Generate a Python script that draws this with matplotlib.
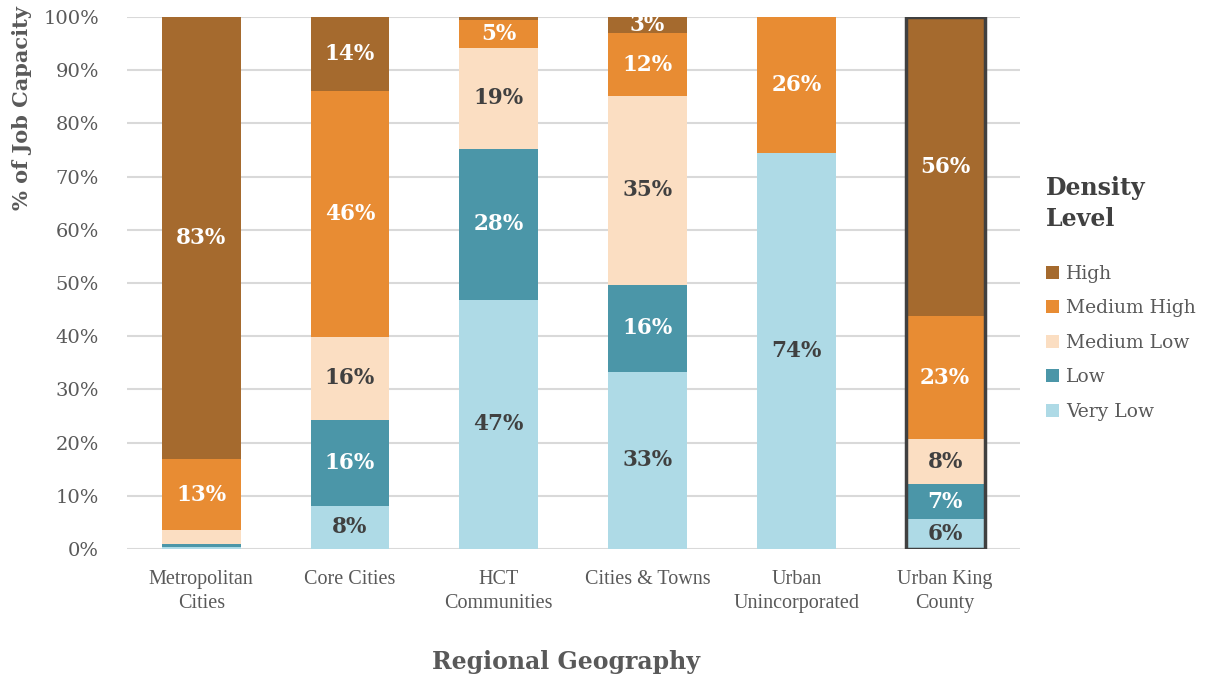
import matplotlib
matplotlib.use("Agg")
import matplotlib.pyplot as plt
import numpy as np
from matplotlib.patches import Patch

categories = ["Metropolitan\nCities", "Core Cities", "HCT\nCommunities", "Cities & Towns",
              "Urban\nUnincorporated", "Urban King\nCounty"]
levels = ["Very Low", "Low", "Medium Low", "Medium High", "High"]
very_low    = [0.3,  8.1, 46.8, 33.3, 74.4,  5.6]
low         = [0.6, 16.2, 28.4, 16.4,  0.0,  6.6]
medium_low  = [2.6, 15.6, 19.0, 35.4,  0.0,  8.4]
medium_high = [13.4, 46.2, 5.2, 11.9, 25.6, 23.1]
high        = [83.1, 13.9, 0.6,  3.0,  0.0, 56.3]

series = [very_low, low, medium_low, medium_high, high]
colors = ["#AEDAE6", "#4B96A8", "#FBDEC2", "#E88C33", "#A56A2E"]
text_colors = ["#404040", "white", "#404040", "white", "white"]

SERIF = "DejaVu Serif"
W, H = 1208, 679
fig = plt.figure(figsize=(W / 100, H / 100), dpi=100)
ax = fig.add_axes([0.105, 0.1915, 0.739, 0.7835])

x = np.arange(len(categories))
width = 0.53
bottom = np.zeros(len(categories))
for vals, col, tc in zip(series, colors, text_colors):
    vals = np.array(vals)
    ax.bar(x, vals, width, bottom=bottom, color=col, zorder=3)
    for i, v in enumerate(vals):
        if v >= 2.8:
            ax.text(x[i], bottom[i] + v / 2, f"{int(v + 0.5)}%", ha="center", va="center",
                    color=tc, fontsize=15.5, fontweight="bold", family=SERIF, zorder=5)
    bottom += vals

# outline for Urban King County
tot = sum(s[-1] for s in series)
ax.bar(x[-1], tot, width, bottom=0, fill=False, edgecolor="#404040", linewidth=2.5, zorder=4)

ax.set_xlim(-0.5, len(categories) - 0.5)
ax.set_ylim(0, 100)
ax.set_yticks(np.arange(0, 101, 10))
ax.set_yticklabels([f"{t}%" for t in range(0, 101, 10)], family=SERIF, fontsize=14, color="#595959")
ax.set_xticks(x)
ax.set_xticklabels(categories, family="Liberation Serif", fontsize=14.5,
                   color="#595959", linespacing=1.35)
ax.tick_params(axis="y", length=0, pad=20)
ax.tick_params(axis="x", length=0, pad=15)
ax.yaxis.grid(True, color="#D9D9D9", linewidth=1.5, zorder=0)
for s in ax.spines.values():
    s.set_visible(False)

fig.text(22 / W, 1 - 108 / H, "% of Job Capacity", family=SERIF, fontsize=15, fontweight="bold",
         color="#595959", rotation=90, ha="center", va="center")
fig.text(566 / W, 1 - 662 / H, "Regional Geography", family=SERIF, fontsize=17,
         fontweight="bold", color="#595959", ha="center", va="center")

handles = [Patch(facecolor=c, label=l) for c, l in zip(colors[::-1], levels[::-1])]
leg = fig.legend(handles=handles, loc="upper left", bbox_to_anchor=(0.852, 0.766), frameon=False,
                 title="Density\nLevel", prop={"family": SERIF, "size": 13.5},
                 handlelength=0.7, handleheight=0.7, handletextpad=0.35, labelspacing=0.88)
leg.get_title().set_fontfamily(SERIF)
leg.get_title().set_fontsize(17)
leg.get_title().set_fontweight("bold")
leg.get_title().set_color("#404040")
leg.get_title().set_linespacing(1.4)
leg._legend_box.align = "left"
leg._legend_box.sep = 24
for t in leg.get_texts():
    t.set_color("#595959")

fig.savefig("out.png", dpi=100)
